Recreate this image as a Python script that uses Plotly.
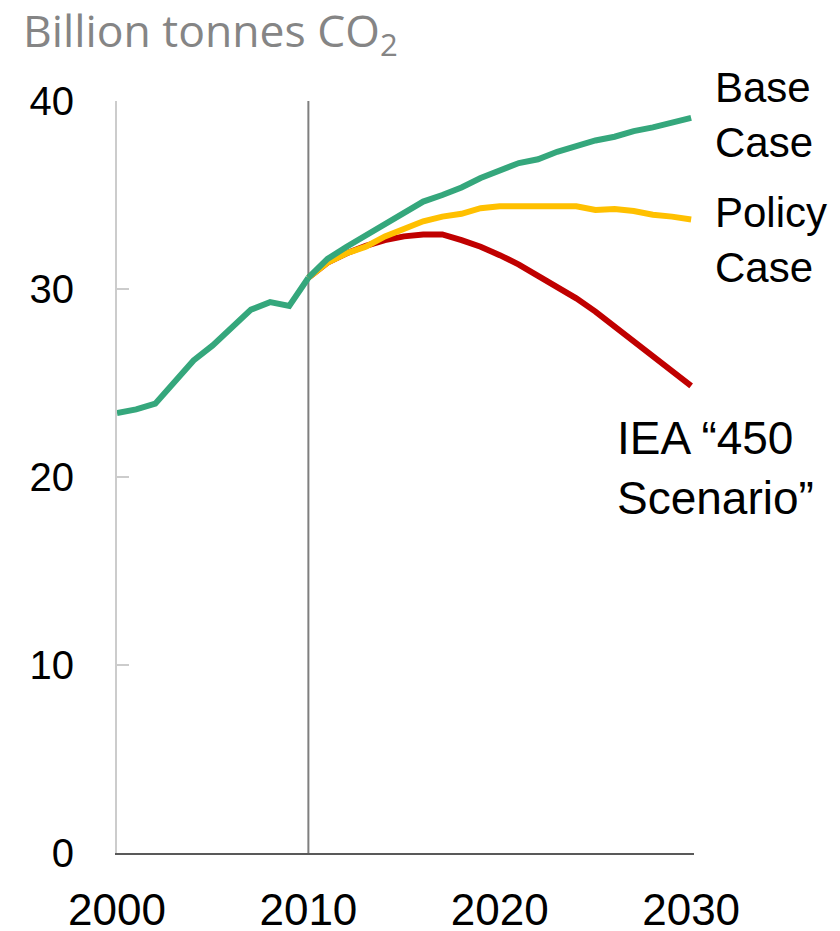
import plotly.graph_objects as go

# Historical emissions, 2000-2010 (billion tonnes CO2)
hist_years = list(range(2000, 2011))
hist_values = [23.4, 23.6, 23.9, 25.1, 26.2, 27.0, 27.9, 28.9, 29.3, 29.1, 30.6]

# Projections, 2010-2030
proj_years = list(range(2010, 2031))
base_case = [30.6, 31.6, 32.25, 32.87, 33.5, 34.1, 34.65, 35.0, 35.4, 35.9, 36.3,
             36.7, 36.9, 37.3, 37.6, 37.9, 38.1, 38.4, 38.6, 38.85, 39.1]
policy_case = [30.6, 31.4, 31.9, 32.25, 32.8, 33.2, 33.6, 33.85, 34.0, 34.3, 34.4,
               34.4, 34.4, 34.4, 34.4, 34.2, 34.25, 34.15, 33.95, 33.85, 33.7]
iea_450 = [30.6, 31.4, 31.9, 32.3, 32.6, 32.8, 32.9, 32.9, 32.6, 32.25, 31.8,
           31.3, 30.7, 30.1, 29.5, 28.8, 28.0, 27.3, 26.5, 25.7, 24.85]

x_ticks = [2000, 2010, 2020, 2030]
y_ticks = [0, 10, 20, 30, 40]

GREEN = "#35a77c"
YELLOW = "#ffc000"
RED = "#c00000"
LW = 6

fig = go.Figure()
fig.add_trace(go.Scatter(x=proj_years, y=iea_450, mode="lines",
                         line=dict(color=RED, width=LW), hoverinfo="skip"))
fig.add_trace(go.Scatter(x=proj_years, y=policy_case, mode="lines",
                         line=dict(color=YELLOW, width=LW), hoverinfo="skip"))
fig.add_trace(go.Scatter(x=proj_years, y=base_case, mode="lines",
                         line=dict(color=GREEN, width=LW), hoverinfo="skip"))
fig.add_trace(go.Scatter(x=hist_years, y=hist_values, mode="lines",
                         line=dict(color=GREEN, width=LW), hoverinfo="skip"))

# Divider between history and projections
fig.add_shape(type="line", xref="x", yref="y", x0=2010, x1=2010, y0=0, y1=40.15,
              line=dict(color="#7f7f7f", width=2), layer="below")

label_font = dict(family="Liberation Sans, Arial, sans-serif", size=42, color="#000000")
fig.add_annotation(x=1.033, y=0.9814, xref="paper", yref="paper", text="Base<br>Case",
                   showarrow=False, xanchor="left", yanchor="middle", align="left",
                   font=label_font)
fig.add_annotation(x=1.033, y=0.8152, xref="paper", yref="paper", text="Policy<br>Case",
                   showarrow=False, xanchor="left", yanchor="middle", align="left",
                   font=label_font)
fig.add_annotation(x=0.863, y=0.512, xref="paper", yref="paper", text="IEA “450<br>Scenario”",
                   showarrow=False, xanchor="left", yanchor="middle", align="left",
                   font=dict(label_font, size=46))

# Unit title
fig.add_annotation(x=-0.166, y=1.092, xref="paper", yref="paper", text="Billion tonnes CO<sub>2</sub>",
                   showarrow=False, xanchor="left", yanchor="middle", align="left",
                   font=dict(family="Open Sans, sans-serif", size=44.5, color="#858585"))

fig.update_layout(
    width=840, height=931,
    margin=dict(l=117, r=146, t=101, b=78, autoexpand=False),
    paper_bgcolor="white", plot_bgcolor="white",
    showlegend=False,
    xaxis=dict(range=[2000, 2030.15], tickvals=x_ticks, ticktext=[str(v) for v in x_ticks],
               showgrid=False, zeroline=False, showline=True, linecolor="#595959", linewidth=2,
               ticks="", ticklabelstandoff=17,
               tickfont=dict(family="Liberation Sans, Arial, sans-serif", size=44, color="#000000")),
    yaxis=dict(range=[0, 40], tickvals=y_ticks, ticktext=[str(v) for v in y_ticks],
               showgrid=False, zeroline=False, showline=True, linecolor="#cccccc", linewidth=2,
               ticks="inside", ticklen=12, tickwidth=2, tickcolor="#cccccc",
               ticklabelstandoff=33,
               tickfont=dict(family="Liberation Sans, Arial, sans-serif", size=40, color="#000000")),
)

fig.write_html("out.html")
